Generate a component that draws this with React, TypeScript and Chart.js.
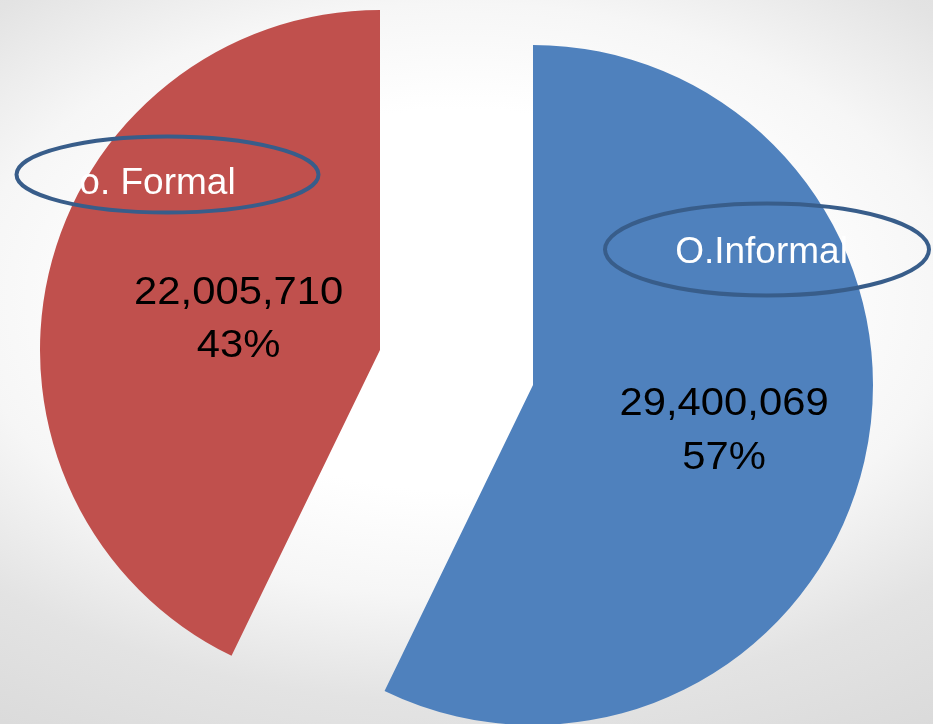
import React, { useEffect, useRef } from "react";
import { Chart, registerables } from "chart.js";

Chart.register(...registerables);

// ---- data ----
const categories = ["O.Informal", "O. Formal"];
const values = [29400069, 22005710];
const calloutTexts = ["O.Informal", "o. Formal"];
const sliceColors = ["#4F81BD", "#C0504D"];

// ---- layout / style (not data) ----
const W = 933;
const H = 724;
const RADIUS = 340;
const EXPLODE = 78.5; // px each slice is pulled out along its bisector
const LABEL_DIST = [196, 145]; // distance of value label from slice apex
const LABEL_SCALE_X = 1.1;
const CALLOUTS = [
  { cx: 767, cy: 249.5, rx: 162, ry: 46, tx: 761.5, ty: 263 },
  { cx: 167.5, cy: 174.5, rx: 151, ry: 38, tx: 157.5, ty: 194 },
];

const total = values.reduce((a, b) => a + b, 0);
const valueLabels = values.map((v) => v.toLocaleString("en-US"));
const pctLabels = values.map((v) => Math.round((v / total) * 100) + "%");

function drawStretched(ctx: CanvasRenderingContext2D, t: string, x: number, y: number, sx: number) {
  ctx.save();
  ctx.translate(x, y);
  ctx.scale(sx, 1);
  ctx.fillText(t, 0, 0);
  ctx.restore();
}

const backgroundPlugin = {
  id: "bgGradient",
  beforeDraw(chart: any) {
    const ctx: CanvasRenderingContext2D = chart.ctx;
    const cx = 460, cy = 300;
    const sx = 700 * 1.25, sy = 424 * 1.25;
    ctx.save();
    ctx.translate(cx, cy);
    ctx.scale(sx, sy);
    const g = ctx.createRadialGradient(0, 0, 0, 0, 0, 1);
    g.addColorStop(0, "#ffffff");
    g.addColorStop(0.36, "#ffffff");
    g.addColorStop(0.56, "#f6f6f6");
    g.addColorStop(0.76, "#e3e3e3");
    g.addColorStop(1, "#d9d9d9");
    ctx.fillStyle = g;
    ctx.fillRect(-cx / sx, -cy / sy, chart.width / sx, chart.height / sy);
    ctx.restore();
  },
};

// explode slices: move each arc's centre along its bisector
const explodePlugin = {
  id: "explode",
  afterUpdate(chart: any) {
    const meta = chart.getDatasetMeta(0);
    meta.data.forEach((arc: any) => {
      const mid = (arc.startAngle + arc.endAngle) / 2;
      arc.x += Math.cos(mid) * EXPLODE;
      arc.y += Math.sin(mid) * EXPLODE;
    });
  },
};

const labelPlugin = {
  id: "sliceLabels",
  afterDatasetsDraw(chart: any) {
    const ctx: CanvasRenderingContext2D = chart.ctx;
    const meta = chart.getDatasetMeta(0);
    ctx.save();
    meta.data.forEach((arc: any, i: number) => {
      const mid = (arc.startAngle + arc.endAngle) / 2;
      const d = LABEL_DIST[i];
      const ax = arc.x + Math.cos(mid) * d;
      const ay = arc.y + Math.sin(mid) * d;
      ctx.fillStyle = "#000000";
      ctx.font = '38px "Liberation Sans", Arial, sans-serif';
      ctx.textAlign = "center";
      ctx.textBaseline = "alphabetic";
      drawStretched(ctx, valueLabels[i], ax, ay - 13.5, LABEL_SCALE_X);
      drawStretched(ctx, pctLabels[i], ax, ay + 40, LABEL_SCALE_X);
    });
    CALLOUTS.forEach((c, i) => {
      ctx.fillStyle = "#ffffff";
      ctx.font = '37px "Liberation Sans", Arial, sans-serif';
      ctx.textAlign = "center";
      ctx.textBaseline = "alphabetic";
      ctx.fillText(calloutTexts[i], c.tx, c.ty);
      ctx.beginPath();
      ctx.ellipse(c.cx, c.cy, c.rx, c.ry, 0, 0, Math.PI * 2);
      ctx.lineWidth = 4;
      ctx.strokeStyle = "#385D8A";
      ctx.stroke();
    });
    ctx.restore();
  },
};

export default function App() {
  const canvasRef = useRef<HTMLCanvasElement | null>(null);

  useEffect(() => {
    const canvas = canvasRef.current;
    if (!canvas) return;
    const chart = new Chart(canvas, {
      type: "pie",
      data: {
        labels: categories,
        datasets: [
          {
            data: values,
            backgroundColor: sliceColors,
            borderWidth: 0,
            offset: 0,
            hoverOffset: 0,
            radius: RADIUS,
            clip: false,
          } as any,
        ],
      },
      options: {
        responsive: false,
        animation: false,
        radius: RADIUS,
        events: [],
        layout: { padding: { left: 0, right: 20, top: 11, bottom: 0 } },
        plugins: {
          legend: { display: false },
          tooltip: { enabled: false },
        },
      } as any,
      plugins: [backgroundPlugin, explodePlugin, labelPlugin],
    });
    return () => chart.destroy();
  }, []);

  return (
    <div style={{ position: "fixed", left: 0, top: 0, width: W, height: H }}>
      <canvas ref={canvasRef} width={W} height={H} style={{ display: "block", width: W, height: H }} />
    </div>
  );
}
